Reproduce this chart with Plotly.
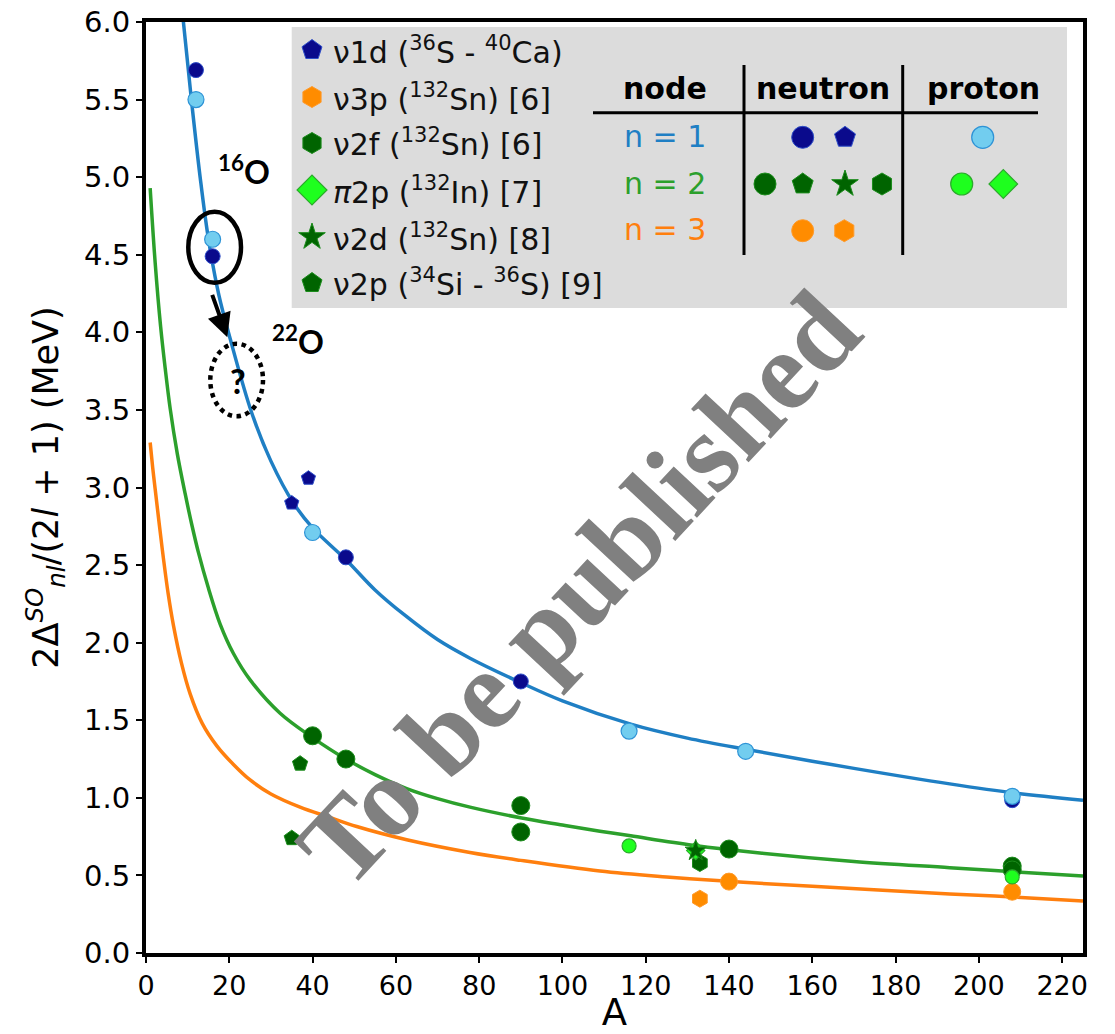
import plotly.graph_objects as go

# ---------------- data ----------------
# systematics curves
n1_curve_A = [8.6, 10.9, 13.0, 15.0, 17.5, 20.2, 25.4, 30.0, 35.4, 40.0, 48.2, 55.0, 62.0, 70.0,
              77.8, 90.2, 100.0, 116.4, 130.0, 144.6, 170.0, 193.0, 209.0, 225.0]
n1_curve_y = [6.1, 5.5, 5.0, 4.6, 4.24, 3.96, 3.48, 3.17, 2.90, 2.74, 2.53, 2.34, 2.18, 2.02,
              1.90, 1.74, 1.625, 1.475, 1.385, 1.31, 1.19, 1.09, 1.03, 0.985]

n2_curve_A = [1.0, 2.2, 3.5, 4.6, 5.8, 7.5, 9.4, 11.0, 12.6, 15.0, 17.8, 21.0, 25.0, 32.2, 39.9,
              48.0, 55.0, 62.6, 70.0, 77.8, 90.2, 100.0, 109.0, 116.4, 131.3, 147.4, 170.0, 193.0,
              209.0, 225.0]
n2_curve_y = [4.93, 4.45, 4.04, 3.77, 3.51, 3.22, 2.96, 2.76, 2.58, 2.35, 2.12, 1.93, 1.76, 1.545,
              1.39, 1.25, 1.15, 1.06, 0.995, 0.94, 0.87, 0.825, 0.785, 0.755, 0.695, 0.645, 0.59,
              0.55, 0.522, 0.496]

n3_curve_A = [1.0, 1.6, 2.2, 3.2, 4.2, 5.3, 6.6, 8.5, 10.6, 13.5, 17.0, 21.0, 25.0, 30.0, 37.0,
              44.0, 50.6, 62.6, 77.8, 90.0, 109.0, 125.0, 140.8, 160.0, 193.0, 209.0, 225.0]
n3_curve_y = [3.29, 3.13, 2.99, 2.76, 2.54, 2.32, 2.11, 1.87, 1.67, 1.48, 1.335, 1.215, 1.115, 1.025,
              0.94, 0.875, 0.815, 0.73, 0.648, 0.597, 0.528, 0.49, 0.46, 0.43, 0.38, 0.36, 0.335]

# neutron n=1 (dark blue circles)
nu_n1_A = [12, 16, 48, 90, 208]
nu_n1_y = [5.69, 4.49, 2.55, 1.75, 0.985]
# nu1d (36S - 40Ca) pentagons
nu1d_A = [35, 39]
nu1d_y = [2.90, 3.06]
# proton n=1 (light blue circles)
pi_n1_A = [12, 16, 40, 116, 144, 208]
pi_n1_y = [5.50, 4.60, 2.71, 1.43, 1.30, 1.01]
# neutron n=2 (dark green circles)
nu_n2_A = [40, 48, 90, 90, 140, 208, 208]
nu_n2_y = [1.40, 1.25, 0.95, 0.78, 0.67, 0.56, 0.535]
# nu2p (34Si - 36S) pentagons
nu2p_A = [35, 37]
nu2p_y = [0.74, 1.22]
# nu2d (132Sn) star
nu2d_A = [132]
nu2d_y = [0.66]
# nu2f (132Sn) hexagon
nu2f_A = [133]
nu2f_y = [0.58]
# proton n=2 (light green circles)
pi_n2_A = [116, 208]
pi_n2_y = [0.69, 0.49]
# pi2p (132In) diamond
pi2p_A = [132]
pi2p_y = [0.66]
# neutron n=3 (orange circles)
nu_n3_A = [140, 208]
nu_n3_y = [0.46, 0.395]
# nu3p (132Sn) hexagon
nu3p_A = [133]
nu3p_y = [0.35]

x_ticks = [0, 20, 40, 60, 80, 100, 120, 140, 160, 180, 200, 220]
y_ticks = [0.0, 0.5, 1.0, 1.5, 2.0, 2.5, 3.0, 3.5, 4.0, 4.5, 5.0, 5.5, 6.0]

legend_labels = [
    "ν1d (<sup>36</sup>S - <sup>40</sup>Ca)",
    "ν3p (<sup>132</sup>Sn) [6]",
    "ν2f (<sup>132</sup>Sn) [6]",
    "<i>π</i>2p (<sup>132</sup>In) [7]",
    "ν2d (<sup>132</sup>Sn) [8]",
    "ν2p (<sup>34</sup>Si - <sup>36</sup>S) [9]",
]
table_headers = ["node", "neutron", "proton"]
table_rows = ["n = 1", "n = 2", "n = 3"]

# ---------------- styles ----------------
C_BLUE_LINE = "#1f7fc4"
C_GREEN_LINE = "#2ca02c"
C_ORANGE_LINE = "#ff7f0e"
DARKBLUE = dict(color="#0a0a8c", line=dict(color="#2f4fc8", width=1))
LIGHTBLUE = dict(color="#72cdef", line=dict(color="#2e93d6", width=1.2))
DARKGREEN = dict(color="#006400", line=dict(color="#1c8c1c", width=1))
LIGHTGREEN = dict(color="#1eff1e", line=dict(color="#2caa2c", width=1.2))
ORANGE = dict(color="#ff8c00", line=dict(color="#ff9a2a", width=1))

fig = go.Figure()

def curve(A, y, color):
    fig.add_trace(go.Scatter(x=A, y=y, mode="lines",
                             line=dict(color=color, width=3.5, shape="spline", smoothing=1.0),
                             hoverinfo="skip"))

curve(n1_curve_A, n1_curve_y, C_BLUE_LINE)
curve(n2_curve_A, n2_curve_y, C_GREEN_LINE)
curve(n3_curve_A, n3_curve_y, C_ORANGE_LINE)

def pts(A, y, symbol, size, style, xaxis="x", yaxis="y"):
    fig.add_trace(go.Scatter(x=A, y=y, mode="markers", xaxis=xaxis, yaxis=yaxis,
                             cliponaxis=False,
                             marker=dict(symbol=symbol, size=size, color=style["color"],
                                         line=style["line"])))

pts(nu_n1_A, nu_n1_y, "circle", 15, DARKBLUE)
pts(pi_n1_A, pi_n1_y, "circle", 16, LIGHTBLUE)
pts(nu1d_A, nu1d_y, "pentagon", 15, DARKBLUE)
pts(nu_n3_A, nu_n3_y, "circle", 17, ORANGE)
pts(nu3p_A, nu3p_y, "hexagon", 17, ORANGE)
pts(nu_n2_A, nu_n2_y, "circle", 18, DARKGREEN)
pts(nu2p_A, nu2p_y, "pentagon", 16, DARKGREEN)
pts(nu2f_A, nu2f_y, "hexagon", 17, DARKGREEN)
pts(pi_n2_A, pi_n2_y, "circle", 14, LIGHTGREEN)
pts(pi2p_A, pi2p_y, "diamond", 14, LIGHTGREEN)
pts(nu2d_A, nu2d_y, "star", 16, DARKGREEN)

# ---------------- legend / table box (overlay axis in plot-fraction units) ----------------
def px_x(x):
    return (x - 146) / 937.0

def px_y(y):
    return (953 - y) / 931.0

shapes = []
shapes.append(dict(type="rect", xref="paper", yref="paper", layer="below",
                   x0=px_x(291.7), x1=px_x(1067), y0=px_y(308), y1=px_y(27),
                   fillcolor="#dcdcdc", line=dict(width=0)))

legend_styles = [("pentagon", 21, DARKBLUE), ("hexagon", 21, ORANGE), ("hexagon", 21, DARKGREEN),
                 ("diamond", 23, LIGHTGREEN), ("star", 20, DARKGREEN), ("pentagon", 21, DARKGREEN)]
legend_rows_px = [50, 97, 143, 190, 237, 283]
annotations = []
for (sym, sz, st), ry, lab in zip(legend_styles, legend_rows_px, legend_labels):
    pts([px_x(312)], [px_y(ry)], sym, sz, st, xaxis="x2", yaxis="y2")
    annotations.append(dict(xref="paper", yref="paper", x=px_x(331), y=px_y(ry), text=lab,
                            showarrow=False, xanchor="left", yanchor="middle",
                            font=dict(family="DejaVu Sans", size=30, color="#111111")))

# table
for hx, h in zip([665, 823, 983], table_headers):
    annotations.append(dict(xref="paper", yref="paper", x=px_x(hx), y=px_y(88), text="<b>%s</b>" % h,
                            showarrow=False, xanchor="center", yanchor="middle",
                            font=dict(family="DejaVu Sans", size=30, color="black")))
for ry, r, c in zip([136.7, 183.3, 230], table_rows, [C_BLUE_LINE, C_GREEN_LINE, C_ORANGE_LINE]):
    annotations.append(dict(xref="paper", yref="paper", x=px_x(665), y=px_y(ry), text=r,
                            showarrow=False, xanchor="center", yanchor="middle",
                            font=dict(family="DejaVu Sans", size=30, color=c)))
shapes.append(dict(type="line", xref="paper", yref="paper", x0=px_x(593), x1=px_x(1038),
                   y0=px_y(112.7), y1=px_y(112.7), line=dict(color="black", width=3)))
for vx in [744, 902.7]:
    shapes.append(dict(type="line", xref="paper", yref="paper", x0=px_x(vx), x1=px_x(vx),
                       y0=px_y(65), y1=px_y(255), line=dict(color="black", width=3)))

table_markers = [
    (802.7, 137.3, "circle", 22, DARKBLUE), (845, 137.3, "pentagon", 22, DARKBLUE),
    (982.7, 137.3, "circle", 22, LIGHTBLUE),
    (765, 184, "circle", 22, DARKGREEN), (802.7, 184, "pentagon", 22, DARKGREEN),
    (845, 184, "star", 20, DARKGREEN), (882, 184, "hexagon", 22, DARKGREEN),
    (961.7, 184, "circle", 22, LIGHTGREEN), (1003.3, 184, "diamond", 22, LIGHTGREEN),
    (802.7, 230.7, "circle", 22, ORANGE), (844.3, 230.7, "hexagon", 22, ORANGE),
]
for mx, my, sym, sz, st in table_markers:
    pts([px_x(mx)], [px_y(my)], sym, sz, st, xaxis="x2", yaxis="y2")

# ---------------- 16O / 22O annotations ----------------
shapes.append(dict(type="circle", xref="paper", yref="paper",
                   x0=px_x(188.3), x1=px_x(241), y0=px_y(282.7), y1=px_y(211.7),
                   line=dict(color="black", width=4.5)))
shapes.append(dict(type="circle", xref="paper", yref="paper",
                   x0=px_x(210.3), x1=px_x(263), y0=px_y(416.3), y1=px_y(343.7),
                   line=dict(color="black", width=4.5, dash="dot")))
annotations.append(dict(xref="paper", yref="paper", x=px_x(227.3), y=px_y(337.3),
                        ax=-15.6, ay=-44, text="", showarrow=True, arrowhead=2,
                        arrowsize=1.2, arrowwidth=4, arrowcolor="black"))
annotations.append(dict(xref="paper", yref="paper", x=px_x(243.5), y=px_y(170), text="<b><sup>16</sup>O</b>",
                        showarrow=False, xanchor="center", yanchor="middle",
                        font=dict(family="Lato", size=32, color="black")))
annotations.append(dict(xref="paper", yref="paper", x=px_x(297.5), y=px_y(340), text="<b><sup>22</sup>O</b>",
                        showarrow=False, xanchor="center", yanchor="middle",
                        font=dict(family="Lato", size=32, color="black")))
annotations.append(dict(xref="paper", yref="paper", x=px_x(238), y=px_y(381), text="<b>?</b>",
                        showarrow=False, xanchor="center", yanchor="middle",
                        font=dict(family="Lato", size=34, color="black")))

# watermark
annotations.append(dict(xref="paper", yref="paper", x=px_x(578), y=px_y(588), text="<b>To be published</b>",
                        showarrow=False, xanchor="center", yanchor="middle", textangle=-47,
                        font=dict(family="Liberation Serif", size=113, color="#808080")))

fig.update_layout(
    width=1115, height=1034,
    margin=dict(l=146, r=32, t=22, b=81, autoexpand=False),
    paper_bgcolor="white", plot_bgcolor="white",
    showlegend=False,
    shapes=shapes, annotations=annotations,
    xaxis=dict(range=[0, 225], tickvals=x_ticks, ticks="outside", ticklen=6, tickwidth=1.5,
               tickcolor="black", showline=True, linewidth=4, linecolor="black", mirror=True,
               showgrid=False, zeroline=False,
               tickfont=dict(family="DejaVu Sans", size=27, color="black"),
               title=dict(text="A", font=dict(family="DejaVu Sans", size=37, color="black"), standoff=4)),
    yaxis=dict(range=[0, 6], tickvals=y_ticks, tickformat=".1f", ticks="outside", ticklen=6,
               tickwidth=1.5, tickcolor="black", showline=True, linewidth=4, linecolor="black",
               mirror=True, showgrid=False, zeroline=False,
               tickfont=dict(family="DejaVu Sans", size=29, color="black"),
               title=dict(text="2Δ<sup><i>SO</i></sup><sub><i>nl</i></sub>/(2<i>l</i> + 1) (MeV)",
                          font=dict(family="DejaVu Sans", size=35, color="black"), standoff=16)),
    xaxis2=dict(overlaying="x", range=[0, 1], visible=False, fixedrange=True),
    yaxis2=dict(overlaying="y", range=[0, 1], visible=False, fixedrange=True),
)

fig.write_html("out.html")
